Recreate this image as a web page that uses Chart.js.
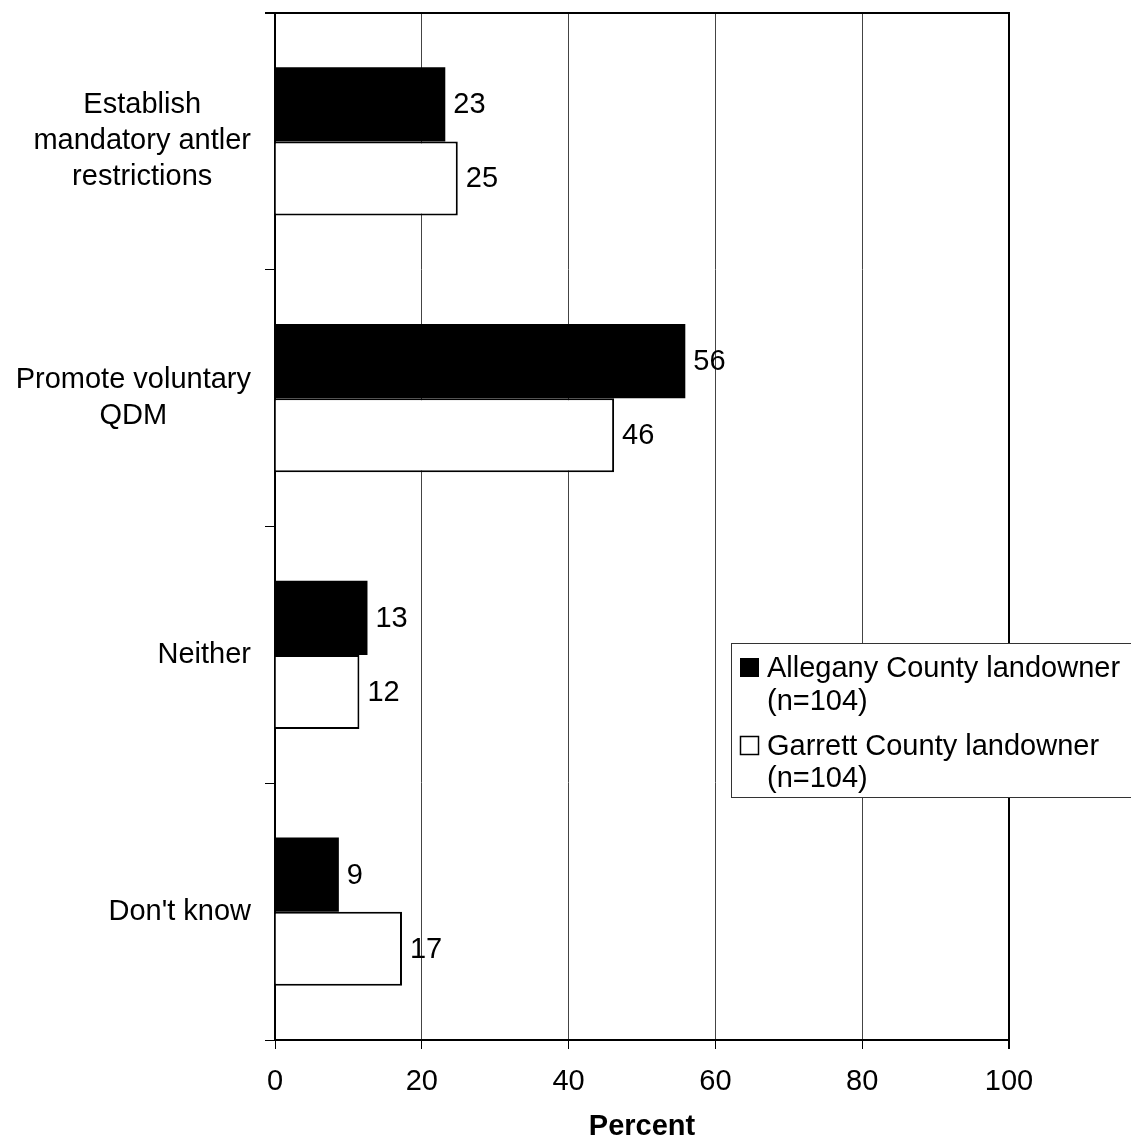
<!DOCTYPE html>
<html>
<head>
<meta charset="utf-8">
<script src="https://cdn.jsdelivr.net/npm/chart.js@4/dist/chart.umd.min.js"></script>
<style>
  body { margin: 0; background: #fff; }
  canvas { display: block; }
</style>
</head>
<body>
<canvas id="qdmChart" width="1131" height="1144"></canvas>
<script>
// Chart data
const categories = [
    ['Establish', 'mandatory antler', 'restrictions'],
    ['Promote voluntary', 'QDM'],
    ['Neither'],
    ["Don't know"]
];
const alleganyValues = [23.2, 55.9, 12.6, 8.7];
const garrettValues = [24.9, 46.2, 11.5, 17.3];
const alleganyLabels = ['23', '56', '13', '9'];
const garrettLabels = ['25', '46', '12', '17'];
const seriesNames = [
    ['Allegany County landowner', '(n=104)'],
    ['Garrett County landowner', '(n=104)']
];
const xTicks = [0, 20, 40, 60, 80, 100];

const FONT = 'Liberation Sans, Arial, sans-serif';
Chart.defaults.font.family = FONT;
Chart.defaults.color = '#000';

// value labels next to each bar
const valueLabels = {
    id: 'valueLabels',
    afterDatasetsDraw(chart) {
        const ctx = chart.ctx;
        ctx.save();
        ctx.font = '29px ' + FONT;
        ctx.fillStyle = '#000';
        ctx.textAlign = 'left';
        ctx.textBaseline = 'middle';
        chart.data.datasets.forEach((ds, i) => {
            chart.getDatasetMeta(i).data.forEach((bar, j) => {
                ctx.fillText(ds.valueLabels[j], bar.x + 8, bar.y + 1);
            });
        });
        ctx.restore();
    }
};

// category labels: each block right aligned, lines centred inside it
const categoryLabels = {
    id: 'categoryLabels',
    afterDraw(chart) {
        const ctx = chart.ctx;
        const yScale = chart.scales.y;
        ctx.save();
        ctx.font = '29px ' + FONT;
        ctx.fillStyle = '#000';
        ctx.textAlign = 'center';
        ctx.textBaseline = 'middle';
        const right = chart.chartArea.left - 24;
        const lineH = 36;
        categories.forEach((lines, i) => {
            const cy = yScale.getPixelForTick(i);
            const w = Math.max(...lines.map(l => ctx.measureText(l).width));
            const cx = right - w / 2;
            const y0 = cy - (lines.length - 1) * lineH / 2;
            lines.forEach((l, k) => ctx.fillText(l, cx, y0 + k * lineH));
        });
        ctx.restore();
    }
};

// top and right frame lines plus the legend box
const frameAndLegend = {
    id: 'frameAndLegend',
    afterDraw(chart) {
        const ctx = chart.ctx;
        const a = chart.chartArea;
        ctx.save();
        ctx.strokeStyle = '#000';
        ctx.lineWidth = 2;
        ctx.beginPath();
        ctx.moveTo(a.left - 10, a.top);
        ctx.lineTo(a.right, a.top);
        ctx.lineTo(a.right, a.bottom);
        ctx.stroke();

        // legend
        const bx = 731, by = 643, bw = 420, bh = 154;
        ctx.fillStyle = '#fff';
        ctx.fillRect(bx, by, bw, bh);
        ctx.lineWidth = 1;
        ctx.strokeStyle = '#333';
        ctx.strokeRect(bx + 0.5, by + 0.5, bw, bh);

        ctx.font = '29px ' + FONT;
        ctx.textAlign = 'left';
        ctx.textBaseline = 'alphabetic';
        const baselines = [[677, 710], [755, 787]];
        chart.data.datasets.forEach((ds, i) => {
            const b = baselines[i];
            if (i === 0) {
                ctx.fillStyle = '#000';
                ctx.fillRect(740, b[0] - 19, 19, 19);
            } else {
                ctx.fillStyle = '#fff';
                ctx.fillRect(740, b[0] - 19, 19, 19);
                ctx.lineWidth = 1.5;
                ctx.strokeStyle = '#000';
                ctx.strokeRect(740.5, b[0] - 18.5, 18, 18);
            }
            ctx.fillStyle = '#000';
            seriesNames[i].forEach((t, k) => ctx.fillText(t, 767, b[k]));
        });
        ctx.restore();
    }
};

const ctx = document.getElementById('qdmChart').getContext('2d');
const qdmChart = new Chart(ctx, {
    type: 'bar',
    data: {
        labels: categories.map(c => c.join(' ')),
        datasets: [{
            label: seriesNames[0].join(' '),
            data: alleganyValues,
            valueLabels: alleganyLabels,
            backgroundColor: '#000',
            borderColor: '#000',
            borderWidth: 0
        }, {
            label: seriesNames[1].join(' '),
            data: garrettValues,
            valueLabels: garrettLabels,
            backgroundColor: '#fff',
            borderColor: '#000',
            borderWidth: 2
        }]
    },
    options: {
        indexAxis: 'y',
        responsive: false,
        animation: false,
        layout: { padding: { left: 0, right: 122, top: 13, bottom: 0 } },
        datasets: {
            bar: { categoryPercentage: 0.578, barPercentage: 1.0 }
        },
        plugins: {
            legend: { display: false },
            tooltip: { enabled: false }
        },
        scales: {
            x: {
                min: 0,
                max: 100,
                afterBuildTicks: s => { s.ticks = xTicks.map(v => ({ value: v })); },
                afterFit: s => { s.height = 104; },
                border: { color: '#000', width: 2 },
                grid: {
                    color: c => c.tick.value === 100 ? '#000' : '#444',
                    lineWidth: c => c.tick.value === 100 ? 2 : 1,
                    tickColor: '#000',
                    tickLength: 9
                },
                ticks: { font: { size: 29 }, color: '#000', padding: 16 },
                title: {
                    display: true,
                    text: 'Percent',
                    font: { size: 29, weight: 'bold' },
                    color: '#000',
                    padding: { top: 0, bottom: 0 }
                }
            },
            y: {
                afterFit: s => { s.width = 275; },
                border: { color: '#000', width: 2 },
                grid: {
                    drawOnChartArea: false,
                    drawTicks: true,
                    tickLength: 10,
                    tickColor: '#000',
                    color: '#000',
                    lineWidth: 1
                },
                ticks: { display: false }
            }
        }
    },
    plugins: [valueLabels, categoryLabels, frameAndLegend]
});
</script>
</body>
</html>
